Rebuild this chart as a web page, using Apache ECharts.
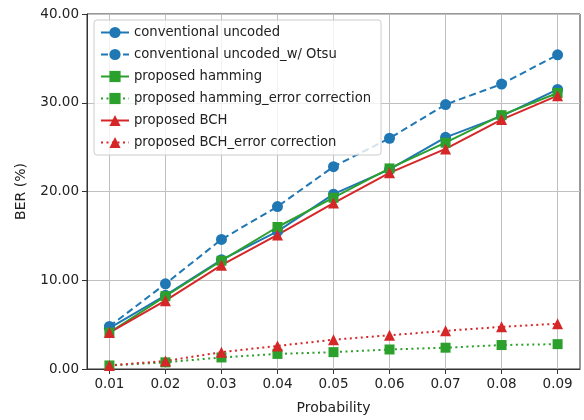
<!DOCTYPE html>
<html>
<head>
<meta charset="utf-8">
<script src="https://cdn.jsdelivr.net/npm/echarts@6/dist/echarts.min.js"></script>
<style>
  html, body { margin: 0; padding: 0; background: #fff; }
  #chart { width: 584px; height: 420px; }
</style>
</head>
<body>
<div id="chart"></div>
<script>
// BER vs probability
var probability = [0.01, 0.02, 0.03, 0.04, 0.05, 0.06, 0.07, 0.08, 0.09];
var uncoded      = [4.6, 8.3, 12.3, 15.5, 19.7, 22.5, 26.1, 28.5, 31.5];
var uncodedOtsu  = [4.8, 9.6, 14.6, 18.3, 22.8, 26.0, 29.8, 32.1, 35.4];
var hamming      = [4.1, 8.2, 12.2, 16.0, 19.3, 22.6, 25.5, 28.6, 31.1];
var hammingEC    = [0.4, 0.75, 1.3, 1.7, 1.9, 2.2, 2.4, 2.7, 2.8];
var bch          = [4.1, 7.7, 11.7, 15.1, 18.7, 22.1, 24.8, 28.1, 30.8];
var bchEC        = [0.4, 0.9, 1.9, 2.6, 3.3, 3.8, 4.3, 4.75, 5.1];
var yTicks = [0, 10, 20, 30, 40];

var blue = '#1f77b4', green = '#2ca02c', red = '#d62728';
var font = 'DejaVu Sans';

function pairs(vals) {
    return probability.map(function (p, i) { return [p, vals[i]]; });
}

function line(name, vals, color, type, symbol, size) {
    return {
        name: name,
        type: 'line',
        data: pairs(vals),
        symbol: symbol,
        symbolSize: size,
        lineStyle: { color: color, width: 2, type: type },
        itemStyle: { color: color },
        z: 3
    };
}

var chart = echarts.init(document.getElementById('chart'));
chart.setOption({
    animation: false,
    grid: {
        left: 87, right: 4, top: 14, bottom: 50,
        show: true, borderColor: '#333', borderWidth: 1
    },
    legend: {
        orient: 'vertical',
        left: 94, top: 20,
        padding: [6, 10, 6, 6],
        itemGap: 9,
        itemWidth: 28, itemHeight: 14,
        backgroundColor: 'rgba(255,255,255,0.8)',
        borderColor: '#cccccc', borderWidth: 1, borderRadius: 3,
        textStyle: { fontFamily: font, fontSize: 13.2, color: '#222' }
    },
    xAxis: {
        type: 'value',
        min: 0.006, max: 0.094,
        name: 'Probability',
        nameLocation: 'middle', nameGap: 32,
        nameTextStyle: { fontFamily: font, fontSize: 14, color: '#222' },
        axisLine: { show: true, lineStyle: { color: '#333' } },
        axisTick: { show: true, length: 5, customValues: probability, lineStyle: { color: '#333' } },
        axisLabel: {
            customValues: probability,
            fontFamily: font, fontSize: 13.5, color: '#222', margin: 8,
            formatter: function (v) { return v.toFixed(2); }
        },
        splitLine: { show: true, lineStyle: { color: '#c0c0c0', width: 1 } }
    },
    yAxis: {
        type: 'value',
        min: 0, max: 40, interval: 10,
        name: 'BER (%)',
        nameLocation: 'middle', nameGap: 59, nameRotate: 90,
        nameTextStyle: { fontFamily: font, fontSize: 14, color: '#222' },
        axisLine: { show: true, lineStyle: { color: '#333' } },
        axisTick: { show: true, length: 5, lineStyle: { color: '#333' } },
        axisLabel: {
            fontFamily: font, fontSize: 13.5, color: '#222', margin: 8,
            formatter: function (v) { return yTicks.indexOf(v) >= 0 ? v.toFixed(2) : ''; }
        },
        splitLine: { show: true, lineStyle: { color: '#c0c0c0', width: 1 } }
    },
    series: [
        line('conventional uncoded', uncoded, blue, 'solid', 'circle', 11),
        line('conventional uncoded_w/ Otsu', uncodedOtsu, blue, [7, 4], 'circle', 11),
        line('proposed hamming', hamming, green, 'solid', 'rect', 10),
        line('proposed hamming_error correction', hammingEC, green, [2, 3.5], 'rect', 10),
        line('proposed BCH', bch, red, 'solid', 'triangle', 11),
        line('proposed BCH_error correction', bchEC, red, [2, 3.5], 'triangle', 11)
    ]
});
</script>
</body>
</html>
